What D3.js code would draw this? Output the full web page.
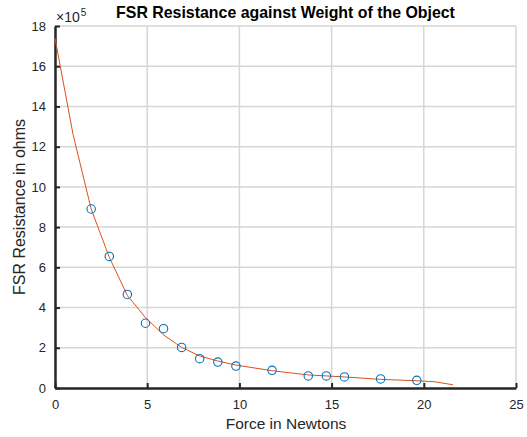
<!DOCTYPE html>
<meta charset="utf-8">
<style>
body { margin: 0; background: #fff; }
text { font-family: "Liberation Sans", Arial, sans-serif; fill: #262626; }
</style>
<body>
<script src="https://d3js.org/d3.v7.min.js"></script>
<script>

// measured points (force in N, resistance in units of 1e5 ohms)
var forceN = [1.962, 2.943, 3.924, 4.905, 5.886, 6.867, 7.848, 8.829, 9.81,
              11.772, 13.734, 14.715, 15.696, 17.658, 19.62];
var resistance = [8.9, 6.54, 4.65, 3.22, 2.95, 2.02, 1.46, 1.29, 1.09,
                  0.88, 0.6, 0.6, 0.55, 0.45, 0.38];

// fitted curve as drawn
var fitX = [0, 0.981, 1.962, 2.943, 3.924, 4.905, 5.886, 6.867, 7.848, 8.829, 9.81,
            11.772, 13.734, 14.715, 15.696, 17.658, 19.62, 20.601, 21.582];
var fitY = [17.4, 12.6, 8.9, 6.5, 4.6, 3.5, 2.64, 2.02, 1.59, 1.34, 1.14,
            0.86, 0.65, 0.6, 0.55, 0.43, 0.36, 0.31, 0.16];

var xTicks = [0, 5, 10, 15, 20, 25];
var yTicks = [0, 2, 4, 6, 8, 10, 12, 14, 16, 18];

var width = 527, height = 437;
var plotL = 55, plotR = 516, plotT = 26, plotB = 388;

var svg = d3.select("body").append("svg")
    .attr("width", width)
    .attr("height", height);

var x = d3.scaleLinear().domain([0, 25]).range([plotL, plotR]);
var y = d3.scaleLinear().domain([0, 18]).range([plotB, plotT]);

// grid
svg.append("g").selectAll("line")
    .data(xTicks.slice(1)).enter().append("line")
    .attr("x1", d => x(d)).attr("x2", d => x(d))
    .attr("y1", plotT).attr("y2", plotB)
    .attr("stroke", "#d6d6d6").attr("stroke-width", 1.5);
svg.append("g").selectAll("line")
    .data(yTicks.slice(1)).enter().append("line")
    .attr("x1", plotL).attr("x2", plotR)
    .attr("y1", d => y(d)).attr("y2", d => y(d))
    .attr("stroke", "#d6d6d6").attr("stroke-width", 1.5);

// axes
var xAxis = d3.axisBottom(x).tickValues(xTicks).tickSizeInner(-5).tickSizeOuter(0).tickPadding(12);
var yAxis = d3.axisLeft(y).tickValues(yTicks).tickSizeInner(-5).tickSizeOuter(0).tickPadding(9);

var gx = svg.append("g").attr("transform", "translate(0," + plotB + ")").call(xAxis);
var gy = svg.append("g").attr("transform", "translate(" + plotL + ",0)").call(yAxis);

[gx, gy].forEach(function(g) {
  g.select(".domain").attr("stroke", "#262626").attr("stroke-width", 2.5);
  g.selectAll(".tick line").attr("stroke", "#262626").attr("stroke-width", 2);
  g.selectAll(".tick text").attr("font-size", 13).attr("fill", "#262626")
    .style("font-family", "'Liberation Sans', Arial, sans-serif");
});

// fit line
var line = d3.line().x((d, i) => x(fitX[i])).y(d => y(d));
svg.append("path")
    .datum(fitY)
    .attr("d", line)
    .attr("fill", "none")
    .attr("stroke", "#D95319")
    .attr("stroke-width", 1);

// data points
svg.append("g").selectAll("circle")
    .data(resistance).enter().append("circle")
    .attr("cx", (d, i) => x(forceN[i]))
    .attr("cy", d => y(d))
    .attr("r", 4.2)
    .attr("fill", "none")
    .attr("stroke", "#0072BD")
    .attr("stroke-width", 1.1);

// exponent label
var ex = svg.append("text").attr("x", 56).attr("y", 22).attr("font-size", 14);
ex.append("tspan").text("\u00d710");
ex.append("tspan").attr("dx", 1).attr("dy", -6).attr("font-size", 10).text("5");

// title
svg.append("text")
    .attr("x", 285.5).attr("y", 18)
    .attr("text-anchor", "middle")
    .attr("font-size", 15.9)
    .attr("font-weight", "bold")
    .style("fill", "#000")
    .text("FSR Resistance against Weight of the Object");

// axis labels
svg.append("text")
    .attr("x", 286).attr("y", 429)
    .attr("text-anchor", "middle")
    .attr("font-size", 15.5)
    .text("Force in Newtons");

svg.append("text")
    .attr("transform", "translate(25,207) rotate(-90)")
    .attr("text-anchor", "middle")
    .attr("font-size", 16)
    .text("FSR Resistance in ohms");

</script>
</body>
